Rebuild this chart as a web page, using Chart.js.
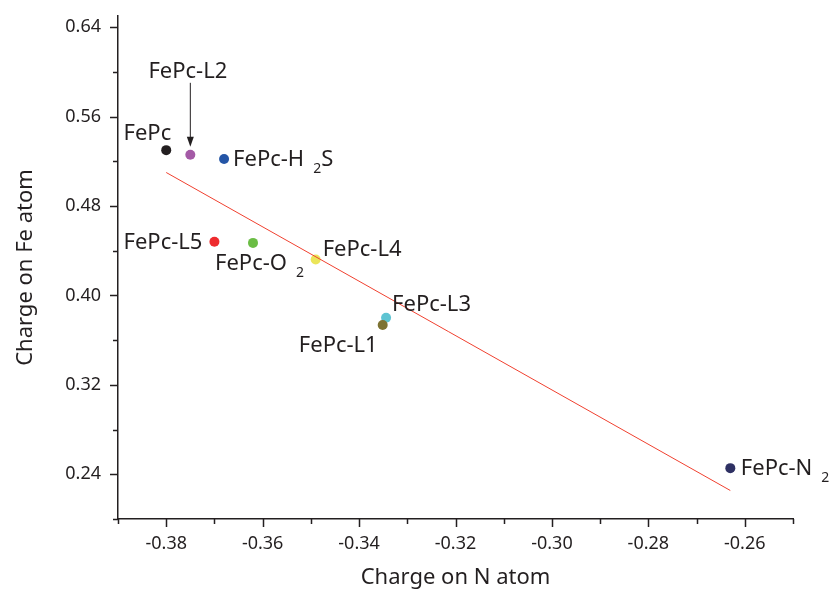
<!DOCTYPE html>
<html>
<head>
<meta charset="utf-8">
<script src="https://cdn.jsdelivr.net/npm/chart.js@4"></script>
<style>
  body { margin: 0; background: #fff; }
  canvas { display: block; }
</style>
</head>
<body>
<canvas id="chart" width="831" height="594"></canvas>
<script>
// data
const names = ['FePc', 'FePc-L2', 'FePc-H_2S', 'FePc-L5', 'FePc-O_2', 'FePc-L4', 'FePc-L3', 'FePc-L1', 'FePc-N_2'];
const chargeN = [-0.380, -0.375, -0.368, -0.370, -0.362, -0.349, -0.3344, -0.3351, -0.263];
const chargeFe = [0.530, 0.5258, 0.522, 0.448, 0.447, 0.4322, 0.380, 0.3736, 0.2455];
const pointColors = ['#231f20', '#a45aa6', '#2455a6', '#ee2b2e', '#6bbd45', '#ebe559', '#5ec4d2', '#7d7333', '#2e3063'];

const fitX = [-0.380, -0.263];
const fitY = [0.510, 0.2255];

const xTicks = [-0.38, -0.36, -0.34, -0.32, -0.30, -0.28, -0.26];
const xMinor = [-0.39, -0.37, -0.35, -0.33, -0.31, -0.29, -0.27, -0.25];
const yTicks = [0.24, 0.32, 0.40, 0.48, 0.56, 0.64];
const yMinor = [0.20, 0.28, 0.36, 0.44, 0.52, 0.60];

// label placement relative to the point (pixels)
const labelPos = [
  { dx: 5, dy: -10, align: 'right' },
  { dx: -2.5, dy: -77, align: 'center', arrow: true },
  { dx: 9, dy: 6.5, align: 'left' },
  { dx: -12, dy: 7, align: 'right' },
  { dx: -38, dy: 27.5, align: 'left' },
  { dx: 7, dy: -3.5, align: 'left' },
  { dx: 6, dy: -6.5, align: 'left' },
  { dx: -5, dy: 27.5, align: 'right' },
  { dx: 10.5, dy: 6.5, align: 'left' }
];

const ink = '#231f20';
const fontFam = '"Noto Sans", "Open Sans", sans-serif';

function drawLabel(ctx, text, x, y, align) {
  const parts = text.split('_');
  const main = parts[0];
  const sub = parts.length > 1 ? parts[1].charAt(0) : '';
  const rest = parts.length > 1 ? parts[1].slice(1) : '';
  ctx.font = '22px ' + fontFam;
  const wMain = ctx.measureText(main).width;
  const wRest = ctx.measureText(rest).width;
  ctx.font = '14px ' + fontFam;
  const wSub = sub ? ctx.measureText(sub).width : 0;
  const gap = sub ? 9 : 0;
  const total = wMain + gap + wSub + wRest;
  let left = x;
  if (align === 'right') left = x - total;
  if (align === 'center') left = x - total / 2;
  ctx.textAlign = 'left';
  ctx.textBaseline = 'alphabetic';
  ctx.fillStyle = ink;
  ctx.font = '22px ' + fontFam;
  ctx.fillText(main, left, y);
  if (sub) {
    ctx.font = '14px ' + fontFam;
    ctx.fillText(sub, left + wMain + gap, y + 7);
    ctx.font = '22px ' + fontFam;
    ctx.fillText(rest, left + wMain + gap + wSub, y);
  }
}

const decorPlugin = {
  id: 'decor',
  afterDraw(chart) {
    const ctx = chart.ctx;
    const xs = chart.scales.x;
    const ys = chart.scales.y;
    const area = chart.chartArea;
    ctx.save();
    ctx.strokeStyle = ink;
    ctx.lineWidth = 1.5;
    ctx.beginPath();
    xTicks.forEach(v => {
      const px = Math.round(xs.getPixelForValue(v)) + 0.5;
      ctx.moveTo(px, area.bottom); ctx.lineTo(px, area.bottom + 8);
    });
    xMinor.forEach(v => {
      const px = Math.round(xs.getPixelForValue(v)) + 0.5;
      ctx.moveTo(px, area.bottom); ctx.lineTo(px, area.bottom + 5);
    });
    yTicks.forEach(v => {
      const py = Math.round(ys.getPixelForValue(v)) + 0.5;
      ctx.moveTo(area.left, py); ctx.lineTo(area.left - 8, py);
    });
    yMinor.forEach(v => {
      const py = Math.round(ys.getPixelForValue(v)) + 0.5;
      ctx.moveTo(area.left, py); ctx.lineTo(area.left - 5, py);
    });
    ctx.stroke();

    const meta = chart.getDatasetMeta(1);
    meta.data.forEach((pt, i) => {
      const lp = labelPos[i];
      drawLabel(ctx, names[i], pt.x + lp.dx, pt.y + lp.dy, lp.align);
      if (lp.arrow) {
        const ax = pt.x;
        const top = pt.y + lp.dy + 5;
        const tip = pt.y - 8;
        ctx.strokeStyle = ink;
        ctx.lineWidth = 1;
        ctx.beginPath();
        ctx.moveTo(ax, top); ctx.lineTo(ax, tip - 8);
        ctx.stroke();
        ctx.fillStyle = ink;
        ctx.beginPath();
        ctx.moveTo(ax, tip);
        ctx.lineTo(ax - 3.5, tip - 10);
        ctx.lineTo(ax + 3.5, tip - 10);
        ctx.closePath();
        ctx.fill();
      }
    });
    ctx.restore();
  }
};

new Chart(document.getElementById('chart'), {
  type: 'scatter',
  data: {
    datasets: [
      {
        type: 'line',
        data: fitX.map((x, i) => ({ x: x, y: fitY[i] })),
        borderColor: '#f0402f',
        borderWidth: 1,
        pointRadius: 0,
        fill: false
      },
      {
        data: chargeN.map((x, i) => ({ x: x, y: chargeFe[i] })),
        pointBackgroundColor: pointColors,
        pointBorderWidth: 0,
        pointRadius: 5,
        pointHoverRadius: 5
      }
    ]
  },
  options: {
    responsive: false,
    animation: false,
    layout: { padding: { left: 0, right: 38, top: 16, bottom: 0 } },
    plugins: { legend: { display: false }, tooltip: { enabled: false } },
    scales: {
      x: {
        type: 'linear',
        min: -0.39,
        max: -0.25,
        afterBuildTicks: s => { s.ticks = xTicks.map(v => ({ value: v })); },
        afterFit: s => { s.height = 75; },
        grid: { display: false, drawTicks: false },
        border: { display: true, color: ink, width: 1.5 },
        ticks: {
          padding: 14,
          color: ink,
          font: { family: fontFam, size: 18 },
          callback: v => v.toFixed(2)
        },
        title: {
          display: true,
          text: 'Charge on N atom',
          color: ink,
          font: { family: fontFam, size: 22 },
          padding: { top: 0, bottom: 3 }
        }
      },
      y: {
        type: 'linear',
        min: 0.20,
        max: 0.65,
        afterBuildTicks: s => { s.ticks = yTicks.map(v => ({ value: v })); },
        afterFit: s => { s.width = 118; s.paddingTop = 0; s.paddingBottom = 0; },
        grid: { display: false, drawTicks: false },
        border: { display: true, color: ink, width: 1.5 },
        ticks: {
          padding: 17,
          color: ink,
          font: { family: fontFam, size: 18 },
          callback: v => v.toFixed(2)
        },
        title: {
          display: true,
          text: 'Charge on Fe atom',
          color: ink,
          font: { family: fontFam, size: 22 },
          padding: { top: 13, bottom: 0 }
        }
      }
    }
  },
  plugins: [decorPlugin]
});
</script>
</body>
</html>
